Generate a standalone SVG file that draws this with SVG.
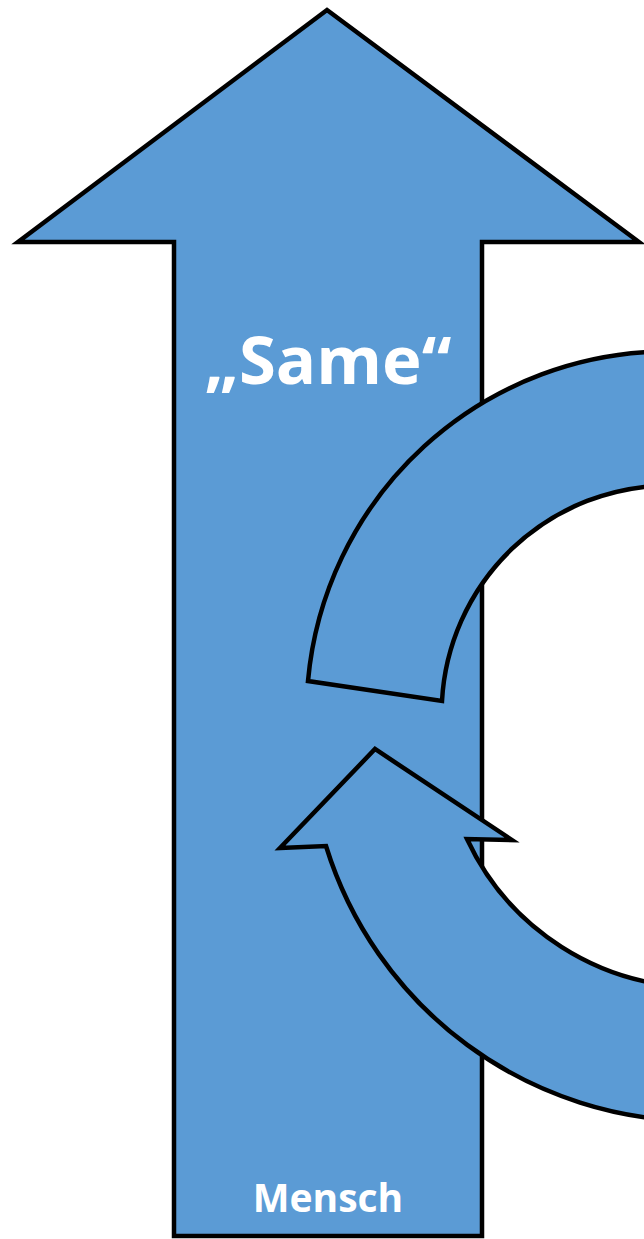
<svg xmlns="http://www.w3.org/2000/svg" width="644" height="1239" viewBox="0 0 644 1239">
<style>
.shape{fill:#5B9BD5;stroke:#000;stroke-width:4.5;stroke-linejoin:miter;stroke-miterlimit:10}
.lbl{fill:#fff;font-family:"Open Sans","Noto Sans","Liberation Sans",sans-serif;font-weight:bold;text-anchor:middle}
</style>
<rect width="644" height="1239" fill="#fff"/>
<g id="up-arrow">
<path class="shape" d="M327,10 L639,242 L482,242 L482,1236 L174,1236 L174,242 L18,242 Z"/>
<text class="lbl" x="328" y="384" font-size="67">„Same“</text>
<text class="lbl" x="328" y="1212" font-size="39">Mensch</text>
</g>
<g id="circular-arrow-top">
<path class="shape" d="M308,681 A362,362 0 0 1 668,351.5 L760,351.5 L760,485.5 L668,485.5 A228,228 0 0 0 442,701 Z"/>
</g>
<g id="circular-arrow-bottom">
<path class="shape" d="M699,1121 A390,390 0 0 1 326,846 L280,848 L375,749 L512,840 L467,839 A256,256 0 0 0 699,987 L760,987 L760,1121 Z"/>
</g>
</svg>
